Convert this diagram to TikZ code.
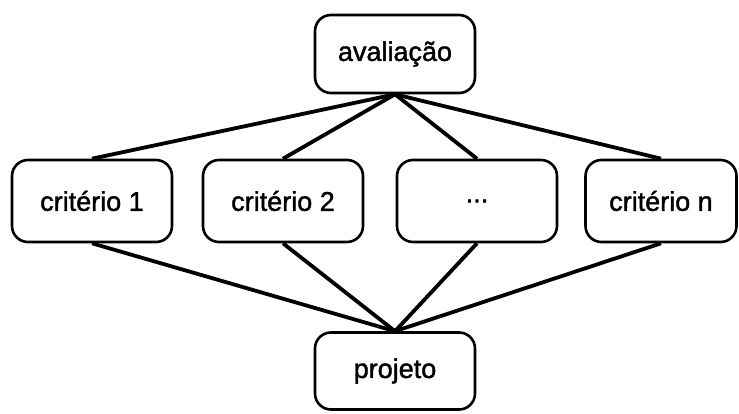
\documentclass[tikz,border=0pt]{standalone}
\usepackage{fontspec}
\setmainfont{Liberation Sans}[FakeBold=1.5]

\begin{document}
\begin{tikzpicture}[x=0.5pt, y=0.5pt,
    box/.style={draw, line width=1.3pt, rectangle, rounded corners=8pt, minimum width=80pt, minimum height=41pt, inner sep=0pt, font=\fontsize{13.5pt}{16pt}\selectfont},
    link/.style={line width=1.9pt}]
    \useasboundingbox (0,0) rectangle (739,413);

    \node[box, minimum height=39pt] at (395,359) (avaliacao) {avaliação};
    \node[box] at (92,212) (criterio1) {critério 1};
    \node[box] at (283,212) (criterio2) {critério 2};
    \node[box] at (477,212) (reticencias) {...};
    \node[box, minimum width=75.5pt] at (661,212) (criterion) {critério n};
    \node[box, minimum height=38.5pt] at (395,42) (projeto) {projeto};

    \draw[link] (avaliacao.south) -- (criterio1.north);
    \draw[link] (avaliacao.south) -- (criterio2.north);
    \draw[link] (avaliacao.south) -- (reticencias.north);
    \draw[link] (avaliacao.south) -- (criterion.north);

    \draw[link] (criterio1.south) -- (projeto.north);
    \draw[link] (criterio2.south) -- (projeto.north);
    \draw[link] (reticencias.south) -- (projeto.north);
    \draw[link] (criterion.south) -- (projeto.north);
\end{tikzpicture}
\end{document}
